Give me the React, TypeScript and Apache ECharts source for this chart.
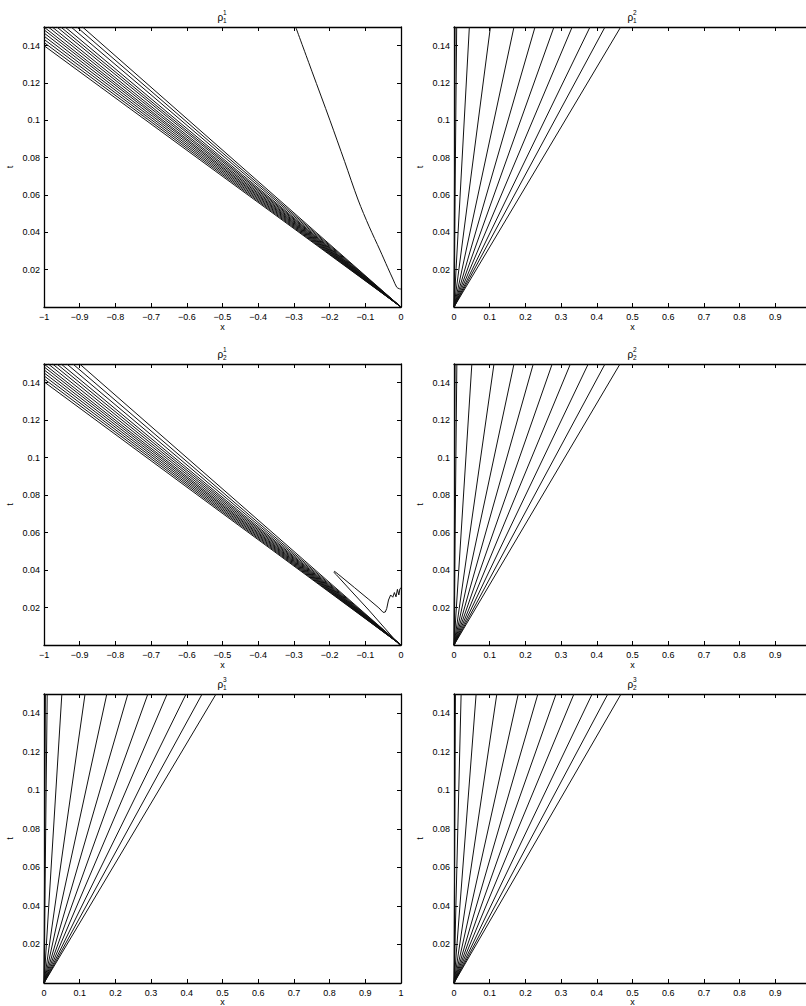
import React, { useEffect, useRef } from "react";
import * as echarts from "echarts";

const T_MAX = 0.15;

// rho_1^1: characteristics leaving the origin, ending on the left edge (t at x = -1)
// or on the top edge (x at t = 0.15), plus one curved contour
const rho11LeftT = [0.14, 0.1417, 0.1434, 0.1451, 0.1468, 0.1485, 0.15];
const rho11TopX = [-0.988, -0.977, -0.964, -0.953, -0.941, -0.924, -0.908, -0.892];
const rho11CurveX = [-0.295, -0.249, -0.199, -0.158, -0.12, -0.089, -0.059, -0.037, -0.0215, -0.012, -0.005, 0];
const rho11CurveT = [0.15, 0.126, 0.1, 0.078, 0.0573, 0.043, 0.0305, 0.021, 0.0145, 0.0106, 0.0098, 0.0096];

// rho_2^1: same fan plus a thin closed contour with a ragged tail near x = 0
const rho21LeftT = [0.1405, 0.1421, 0.1437, 0.1453, 0.1469, 0.1485, 0.15];
const rho21TopX = [-0.988, -0.976, -0.964, -0.952, -0.936, -0.919, -0.9];
const rho21LoopX = [-0.004, -0.09, -0.15, -0.181, -0.188, -0.186, -0.176, -0.13, -0.09, -0.062, -0.05, -0.044, -0.04, -0.035, -0.029, -0.023, -0.0185, -0.014, -0.01, -0.006, -0.003, 0];
const rho21LoopT = [0, 0.0186, 0.031, 0.0375, 0.0388, 0.0393, 0.0378, 0.0306, 0.0243, 0.0198, 0.0174, 0.0176, 0.0195, 0.024, 0.0267, 0.0255, 0.028, 0.0257, 0.0297, 0.0267, 0.03, 0.0305];

// Fans in x >= 0: x where each line meets t = 0.15
const rho12TopX = [0.003, 0.0075, 0.043, 0.102, 0.168, 0.227, 0.28, 0.331, 0.381, 0.423, 0.467];
const rho22TopX = [0.003, 0.008, 0.05, 0.112, 0.168, 0.222, 0.275, 0.326, 0.376, 0.423, 0.465];
const rho13TopX = [0.004, 0.009, 0.05, 0.115, 0.176, 0.235, 0.291, 0.345, 0.398, 0.443, 0.482];
const rho23TopX = [0.004, 0.02, 0.062, 0.12, 0.18, 0.235, 0.286, 0.336, 0.387, 0.431, 0.468];

const yTickLabels = ["0.02", "0.04", "0.06", "0.08", "0.1", "0.12", "0.14"];

const FONT = "'Liberation Sans', Arial, Helvetica, sans-serif";

type Panel = { sub: string; sup: string; col: number; row: number; xMin: number; xMax: number };
const panels: Panel[] = [
  { sub: "1", sup: "1", col: 0, row: 0, xMin: -1, xMax: 0 },
  { sub: "1", sup: "2", col: 1, row: 0, xMin: 0, xMax: 1 },
  { sub: "2", sup: "1", col: 0, row: 1, xMin: -1, xMax: 0 },
  { sub: "2", sup: "2", col: 1, row: 1, xMin: 0, xMax: 1 },
  { sub: "1", sup: "3", col: 0, row: 2, xMin: 0, xMax: 1 },
  { sub: "2", sup: "3", col: 1, row: 2, xMin: 0, xMax: 1 },
];

const colLeft = [44, 454];
const plotWidth = 357;
const rowTop = [27, 364, 694];
const rowHeight = [280, 281, 289];
const xNameGap = [15, 15, 13];

const fmtX = (v: number) => {
  const r = Math.round(v * 10) / 10;
  if (r === 0) return "0";
  const s = String(Math.abs(r));
  return r < 0 ? "\u2212" + s : s;
};
const fmtY = (v: number) => {
  const s = String(Math.round(v * 100) / 100);
  return yTickLabels.includes(s) ? s : "";
};

const fan = (grid: number, ends: number[][]) =>
  ends.map((e) => ({
    type: "line",
    xAxisIndex: grid * 2,
    yAxisIndex: grid * 2,
    data: [[0, 0], e],
    symbol: "none",
    silent: true,
    lineStyle: { color: "#111", width: 1 },
  }));

const curve = (grid: number, xs: number[], ts: number[], smooth: number | boolean = false) => ({
  type: "line",
  xAxisIndex: grid * 2,
  yAxisIndex: grid * 2,
  data: xs.map((x, i) => [x, ts[i]]),
  symbol: "none",
  silent: true,
  smooth,
  lineStyle: { color: "#111", width: 1 },
});

function buildOption() {
  const grid: any[] = [];
  const xAxis: any[] = [];
  const yAxis: any[] = [];
  const graphic: any[] = [];
  const lineStyle = { color: "#000", width: 1.3 };
  const tick = { show: true, inside: true, length: 4, lineStyle: { color: "#000", width: 1 } };

  panels.forEach((p, i) => {
    const left = colLeft[p.col];
    const top = rowTop[p.row];
    const height = rowHeight[p.row];
    // the right column runs past the page edge, so its x = 1 label is not drawn
    const clipsRight = left + plotWidth > 806;
    grid.push({ left, top, width: plotWidth, height, containLabel: false, outerBoundsMode: "none" });
    const xBase = { gridIndex: i, type: "value", min: p.xMin, max: p.xMax, interval: 0.1, splitLine: { show: false } };
    xAxis.push({
      ...xBase,
      position: "bottom",
      axisLine: { show: true, onZero: false, lineStyle },
      axisTick: tick,
      axisLabel: {
        formatter: fmtX,
        fontSize: 9,
        fontFamily: FONT,
        color: "#000",
        margin: 5,
        hideOverlap: false,
        showMaxLabel: !clipsRight,
      },
      name: "x",
      nameLocation: "middle",
      nameGap: xNameGap[p.row],
      nameTextStyle: { fontSize: 9, fontFamily: FONT, color: "#000" },
    });
    xAxis.push({
      ...xBase,
      position: "top",
      axisLine: { show: true, onZero: false, lineStyle },
      axisTick: tick,
      axisLabel: { show: false },
    });
    const yBase = { gridIndex: i, type: "value", min: 0, max: T_MAX, interval: 0.02, splitLine: { show: false } };
    yAxis.push({
      ...yBase,
      position: "left",
      axisLine: { show: true, onZero: false, lineStyle },
      axisTick: tick,
      axisLabel: { formatter: fmtY, fontSize: 9, fontFamily: FONT, color: "#000", margin: 4, showMaxLabel: false },
      name: "t",
      nameLocation: "middle",
      nameGap: 30,
      nameTextStyle: { fontSize: 9, fontFamily: FONT, color: "#000" },
    });
    yAxis.push({
      ...yBase,
      position: "right",
      axisLine: { show: true, onZero: false, lineStyle },
      axisTick: tick,
      axisLabel: { show: false },
    });

    // Panel title: rho with stacked superscript and subscript
    const cx = left + plotWidth / 2;
    const ty = top - 11;
    graphic.push(
      { type: "text", left: cx - 5, top: ty - 4, style: { text: "\u03c1", fontSize: 10, fontFamily: FONT, fill: "#000" } },
      { type: "text", left: cx + 0.5, top: ty - 7, style: { text: p.sup, fontSize: 6.5, fontFamily: FONT, fill: "#000" } },
      { type: "text", left: cx + 0.5, top: ty + 1, style: { text: p.sub, fontSize: 6.5, fontFamily: FONT, fill: "#000" } }
    );
  });

  const series: any[] = [
    ...fan(0, rho11LeftT.map((t) => [-1, t])),
    ...fan(0, rho11TopX.map((x) => [x, T_MAX])),
    curve(0, rho11CurveX, rho11CurveT, 0.3),
    ...fan(1, rho12TopX.map((x) => [x, T_MAX])),
    ...fan(2, rho21LeftT.map((t) => [-1, t])),
    ...fan(2, rho21TopX.map((x) => [x, T_MAX])),
    curve(2, rho21LoopX, rho21LoopT),
    ...fan(3, rho22TopX.map((x) => [x, T_MAX])),
    ...fan(4, rho13TopX.map((x) => [x, T_MAX])),
    ...fan(5, rho23TopX.map((x) => [x, T_MAX])),
  ];

  return { animation: false, backgroundColor: "#fff", grid, xAxis, yAxis, series, graphic };
}

export default function App() {
  const ref = useRef<HTMLDivElement>(null);
  useEffect(() => {
    if (!ref.current) return;
    const chart = echarts.init(ref.current, undefined, { renderer: "svg" });
    chart.setOption(buildOption() as any);
    return () => chart.dispose();
  }, []);
  return <div ref={ref} style={{ position: "absolute", left: 0, top: 0, width: 806, height: 1006 }} />;
}
